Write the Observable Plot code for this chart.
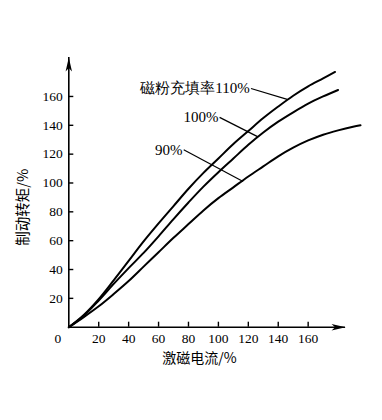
<!DOCTYPE html>
<html>
<head>
<meta charset="utf-8">
<script src="https://cdn.jsdelivr.net/npm/d3@7"></script>
<script src="https://cdn.jsdelivr.net/npm/@observablehq/plot@0.6"></script>
<style>
  html, body { margin: 0; padding: 0; background: #fff; }
</style>
</head>
<body>
<div id="chart"></div>
<script>
// ---- data ----
const fill110X = [0, 10, 20, 30, 40, 50, 60, 70, 80, 90, 100, 110, 120, 130, 140, 150, 160, 170, 178];
const fill110Y = [0, 8.5, 19.5, 32.5, 46, 59.5, 72, 84, 96, 107, 117, 127, 136, 145, 153, 160.5, 167, 172.5, 177];
const fill100X = [0, 10, 20, 30, 40, 50, 60, 70, 80, 90, 100, 110, 120, 130, 140, 150, 160, 170, 180];
const fill100Y = [0, 8, 18.5, 30, 41, 51.5, 63, 75, 86.5, 97.5, 107.5, 117, 126.5, 135, 142.5, 149, 155, 160, 164.5];
const fill90X = [0, 10, 20, 30, 40, 50, 60, 70, 80, 90, 100, 110, 120, 130, 140, 150, 160, 170, 180, 190, 195];
const fill90Y = [0, 7, 14.5, 23, 32, 42, 52, 62, 71.5, 81, 89.5, 97, 104.5, 111.5, 118.5, 124.5, 129.5, 133.5, 136.5, 139, 140];

const xTicks = [20, 40, 60, 80, 100, 120, 140, 160];
const yTicks = [20, 40, 60, 80, 100, 120, 140, 160];
const originLabel = ["0"];

const xTitle = "激磁电流/%";
const yTitle = "制动转矩/%";
const xAxisEnd = 185;
const yAxisEnd = 187;

// annotation labels: text, anchor point (end of text), leader line to the curve
const annText = ["磁粉充填率110%", "100%", "90%"];
const annX = [121, 100, 76];
const annY = [165.5, 145.5, 123];
const leadX2 = [146, 126.5, 116.5];
const leadY2 = [158, 132, 101];

// ---- build tables ----
const series = [
  ...fill110X.map((x, i) => ({x, y: fill110Y[i], s: "110%"})),
  ...fill100X.map((x, i) => ({x, y: fill100Y[i], s: "100%"})),
  ...fill90X.map((x, i) => ({x, y: fill90Y[i], s: "90%"}))
];
const ann = annText.map((t, i) => ({t, x: annX[i], y: annY[i], x2: leadX2[i], y2: leadY2[i]}));

const arrowHead = {
  draw(ctx) {
    ctx.moveTo(0, 0);
    ctx.lineTo(-14, -3.2);
    ctx.lineTo(-10.5, 0);
    ctx.lineTo(-14, 3.2);
    ctx.closePath();
  }
};

const serif = "'Liberation Serif', 'DejaVu Serif', serif";
const cjk = "'Noto Sans CJK SC', sans-serif";

const chart = Plot.plot({
  width: 382,
  height: 420,
  marginLeft: 68.3,
  marginRight: 14.5,
  marginTop: 52.7,
  marginBottom: 93.3,
  x: {domain: [0, 200], axis: null},
  y: {domain: [0, 190], axis: null},
  style: {background: "#fff", color: "#000", fontFamily: serif},
  marks: [
    // axes
    Plot.ruleY([0], {x1: 0, x2: xAxisEnd, stroke: "#000", strokeWidth: 1.6}),
    Plot.ruleX([0], {y1: 0, y2: yAxisEnd, stroke: "#000", strokeWidth: 1.6}),
    Plot.dot([xAxisEnd], {x: d => d, y: 0, symbol: arrowHead, fill: "#000", stroke: null}),
    Plot.dot([yAxisEnd], {x: 0, y: d => d, symbol: arrowHead, fill: "#000", stroke: null, rotate: -90}),
    // ticks (inward)
    Plot.axisX({ticks: xTicks, tickSize: -5, fill: "none", label: null, anchor: "bottom", strokeWidth: 1.4, stroke: "#000"}),
    Plot.axisY({ticks: yTicks, tickSize: -5, fill: "none", label: null, anchor: "left", strokeWidth: 1.4, stroke: "#000"}),
    // tick labels
    Plot.text(xTicks, {x: d => d, y: 0, text: d => String(d), dy: 11, fontSize: 13.5, fontFamily: serif, fill: "#000"}),
    Plot.text(yTicks, {x: 0, y: d => d, text: d => String(d), dx: -6, textAnchor: "end", fontSize: 13.5, fontFamily: serif, fill: "#000"}),
    Plot.text(originLabel, {x: 0, y: 0, text: d => d, dx: -11, dy: 11, fontSize: 13.5, fontFamily: serif, fill: "#000"}),
    // axis titles
    Plot.text([xTitle], {x: 87.4, y: 0, text: d => d, dy: 31, fontSize: 14, fontFamily: cjk, fill: "#000"}),
    Plot.text([yTitle], {x: 0, y: 83.2, text: d => d, dx: -45, rotate: -90, fontSize: 14.5, fontFamily: cjk, fill: "#000"}),
    // curves
    Plot.line(series, {x: "x", y: "y", z: "s", curve: "catmull-rom", stroke: "#000", strokeWidth: 2}),
    // leader lines
    Plot.link(ann, {x1: d => d.x + 0.8, y1: "y", x2: "x2", y2: "y2", stroke: "#000", strokeWidth: 1.2}),
    // annotation texts
    Plot.text(ann, {x: "x", y: "y", text: "t", textAnchor: "end", fontSize: 15, fontFamily: serif, fill: "#000"})
  ]
});

document.getElementById("chart").appendChild(chart);
</script>
</body>
</html>
